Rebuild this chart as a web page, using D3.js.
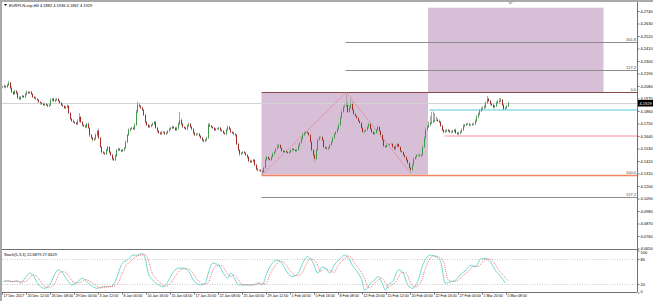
<!DOCTYPE html>
<html>
<head>
<meta charset="utf-8">
<script src="https://cdn.jsdelivr.net/npm/d3@7"></script>
<style>
body { margin: 0; background: #fff; }
svg { display: block; }
text { font-family: "Liberation Sans", Arial, sans-serif; font-size: 4px; fill: #000; }
</style>
</head>
<body>
<svg id="chart" width="653" height="301"></svg>
<script>
// EURPLN.ssp H4 closes, one per bar
const closes = [
4.2071,4.2080,4.2071,4.2089,4.2107,4.2063,4.2027,4.2010,4.2036,4.2019,
4.1975,4.1966,4.1983,4.1992,4.1983,4.2010,4.2027,4.2019,4.2027,4.2010,
4.1983,4.1975,4.1966,4.1957,4.1939,4.1931,4.1922,4.1913,4.1922,4.1913,
4.1904,4.1913,4.1957,4.1966,4.1948,4.1957,4.1966,4.1948,4.1931,4.1913,
4.1904,4.1887,4.1895,4.1904,4.1843,4.1790,4.1772,4.1763,4.1755,4.1746,
4.1772,4.1807,4.1763,4.1737,4.1728,4.1719,4.1746,4.1711,4.1649,4.1623,
4.1605,4.1614,4.1649,4.1684,4.1623,4.1543,4.1499,4.1491,4.1482,4.1517,
4.1543,4.1499,4.1473,4.1438,4.1429,4.1464,4.1517,4.1526,4.1517,4.1508,
4.1517,4.1535,4.1587,4.1649,4.1693,4.1702,4.1711,4.1702,4.1737,4.1851,
4.1913,4.1904,4.1887,4.1869,4.1825,4.1763,4.1737,4.1719,4.1728,4.1737,
4.1746,4.1763,4.1711,4.1684,4.1667,4.1658,4.1675,4.1675,4.1658,4.1667,
4.1684,4.1702,4.1711,4.1719,4.1711,4.1693,4.1711,4.1746,4.1781,4.1746,
4.1719,4.1711,4.1702,4.1728,4.1746,4.1719,4.1702,4.1667,4.1649,4.1658,
4.1658,4.1640,4.1623,4.1605,4.1596,4.1605,4.1623,4.1737,4.1728,4.1719,
4.1711,4.1693,4.1702,4.1702,4.1711,4.1693,4.1684,4.1667,4.1658,4.1693,
4.1719,4.1702,4.1675,4.1667,4.1658,4.1649,4.1570,4.1517,4.1482,4.1491,
4.1499,4.1491,4.1473,4.1455,4.1420,4.1411,4.1420,4.1429,4.1385,4.1350,
4.1341,4.1341,4.1332,4.1323,4.1359,4.1429,4.1455,4.1438,4.1429,4.1455,
4.1482,4.1499,4.1526,4.1543,4.1561,4.1535,4.1508,4.1499,4.1508,4.1499,
4.1491,4.1499,4.1517,4.1526,4.1517,4.1508,4.1517,4.1552,4.1579,4.1614,
4.1649,4.1667,4.1675,4.1667,4.1649,4.1587,4.1517,4.1473,4.1438,4.1517,
4.1605,4.1631,4.1631,4.1605,4.1543,4.1535,4.1526,4.1535,4.1561,4.1587,
4.1623,4.1658,4.1675,4.1702,4.1737,4.1799,4.1851,4.1895,4.1904,4.1913,
4.1851,4.1887,4.1922,4.1869,4.1834,4.1816,4.1799,4.1772,4.1755,4.1711,
4.1675,4.1684,4.1693,4.1719,4.1746,4.1702,4.1675,4.1658,4.1667,4.1693,
4.1719,4.1684,4.1649,4.1605,4.1552,4.1543,4.1561,4.1561,4.1570,4.1570,
4.1543,4.1526,4.1552,4.1570,4.1543,4.1508,4.1499,4.1473,4.1455,4.1429,
4.1403,4.1359,4.1341,4.1385,4.1438,4.1455,4.1473,4.1473,4.1464,4.1473,
4.1543,4.1623,4.1693,4.1719,4.1737,4.1755,4.1763,4.1772,4.1781,4.1781,
4.1772,4.1763,4.1728,4.1693,4.1675,4.1684,4.1693,4.1684,4.1675,4.1675,
4.1684,4.1693,4.1667,4.1658,4.1667,4.1675,4.1693,4.1728,4.1737,4.1746,
4.1746,4.1737,4.1737,4.1746,4.1746,4.1772,4.1807,4.1834,4.1860,4.1878,
4.1887,4.1895,4.1931,4.1966,4.1948,4.1922,4.1913,4.1895,4.1904,4.1931,
4.1939,4.1948,4.1957,4.1913,4.1878,4.1887,4.1904,4.1929
];

// wick lengths above / below the body, in points (0.0001)
const upperWick = [
9,12,6,10,18,8,14,6,12,9,7,15,8,10,6,12,14,7,9,11,
6,8,12,7,10,9,6,14,8,7,11,9,16,8,10,12,9,7,8,10,
12,6,9,14,8,7,10,12,6,9,15,35,8,10,7,12,9,14,6,8,
10,12,15,9,22,7,8,10,6,12,9,7,8,10,11,14,9,12,8,7,
10,9,12,8,14,10,9,12,16,20,26,14,9,12,8,10,7,9,12,8,
14,10,7,9,8,10,12,9,7,10,8,12,9,14,10,8,12,15,70,12,
9,7,10,14,12,8,9,7,10,8,9,10,8,6,9,10,12,18,14,9,
10,8,9,12,10,8,7,9,10,12,14,9,8,7,10,9,8,12,7,9,
8,10,7,9,8,12,9,10,7,8,9,6,8,7,12,18,14,9,10,12,
14,10,12,26,9,10,8,12,9,10,7,9,12,8,10,9,8,14,12,16,
18,10,12,9,8,10,12,9,10,14,16,12,10,9,8,10,12,9,10,12,
14,12,10,12,16,18,20,14,22,110,30,20,44,18,12,10,9,12,8,10,
12,10,9,14,10,12,8,9,10,12,14,9,8,10,12,9,10,12,8,9,
10,9,12,8,10,9,7,8,9,10,8,7,9,12,10,9,8,10,9,12,
14,16,18,20,30,60,90,85,60,30,16,12,9,10,8,12,9,10,12,14,
10,9,12,8,10,12,14,16,10,9,12,10,9,8,12,14,16,12,18,14,
16,20,14,26,12,10,14,12,10,16,20,26,18,10,12,9,10,12
];
const lowerWick = [
8,10,12,7,9,14,8,10,6,12,9,8,11,7,10,9,12,8,6,10,
9,12,7,10,8,14,9,6,11,8,10,9,7,12,8,10,9,11,7,8,
10,9,12,8,14,10,9,12,8,10,9,12,8,14,10,9,12,8,16,10,
12,9,8,14,10,9,12,8,10,9,12,14,10,12,9,10,8,12,9,10,
9,12,8,10,9,12,8,10,9,8,10,12,9,8,10,12,9,10,8,12,
10,12,9,14,10,8,9,12,10,9,8,10,9,12,10,9,8,14,10,12,
9,10,8,12,9,10,12,14,10,9,8,10,12,14,16,10,12,9,10,8,
10,12,9,8,10,12,9,10,8,12,10,9,8,10,12,14,10,12,16,10,
12,10,9,14,12,10,9,12,10,14,12,10,12,24,10,12,9,10,12,10,
10,12,9,10,8,12,10,9,12,10,9,8,10,12,9,10,12,9,10,8,
9,10,12,8,10,12,14,18,30,12,10,9,10,12,14,10,9,12,10,9,
8,10,9,12,10,9,8,10,12,10,9,12,10,9,8,10,12,9,10,12,
10,9,12,10,9,12,10,8,12,10,9,12,14,10,12,9,10,8,12,10,
9,10,12,10,9,12,10,12,14,12,16,14,29,12,10,9,12,10,9,12,
10,9,12,10,9,12,10,9,12,10,9,12,10,14,12,10,9,12,10,12,
10,12,9,10,12,14,10,9,12,10,9,12,10,9,12,10,9,10,12,10,
9,10,12,10,9,12,10,14,12,10,9,12,10,12,14,10,9,10
];

// header values as shown on the chart
const titleText = "EURPLN.ssp,H4  4.1882 4.1936 4.1867 4.1929";
const stochText = "Stoch(5,3,3) 22.6879 27.6629";

// time axis: one label every 16 bars
const timeLabels = ["17 Dec 2017","20 Dec 12:00","26 Dec 08:00","29 Dec 00:00","3 Jan 12:00",
  "8 Jan 00:00","10 Jan 16:00","15 Jan 04:00","17 Jan 20:00","22 Jan 08:00","25 Jan 00:00",
  "29 Jan 12:00","1 Feb 04:00","5 Feb 16:00","8 Feb 08:00","12 Feb 20:00","15 Feb 12:00",
  "20 Feb 00:00","22 Feb 16:00","27 Feb 04:00","1 Mar 20:00","5 Mar 08:00"];
const priceTicks = [4.2740,4.2630,4.2520,4.2410,4.2300,4.2190,4.2080,4.1970,4.1860,4.1750,
  4.1640,4.1530,4.1420,4.1310,4.1200,4.1090,4.0980,4.0870,4.0760,4.0650];

// stochastic (5,3,3): [bar, value]
const stochMain = [[0,26],[3,28],[6,26],[10,28],[12,22],[15,35],[18,46],[20,42],[23,23],[25,14],
  [28,10],[32,23],[35,46],[37,54],[40,46],[43,30],[46,18],[50,26],[53,34],[56,26],[60,14],[63,10],
  [67,14],[72,14],[75,26],[77,46],[80,71],[83,77],[87,89],[90,89],[93,93],[95,81],[97,46],[101,26],
  [104,18],[107,14],[110,26],[114,50],[117,58],[120,58],[124,50],[127,30],[132,18],[135,22],[137,46],
  [140,70],[144,65],[147,46],[150,34],[152,46],[155,30],[157,18],[162,18],[167,18],[170,23],[173,18],
  [176,46],[180,71],[183,77],[187,65],[190,46],[193,38],[197,46],[200,70],[203,85],[207,70],[210,46],
  [213,61],[217,50],[218,46],[221,65],[225,81],[228,89],[230,85],[233,65],[237,46],[240,22],[241,6],
  [243,10],[245,22],[248,30],[250,38],[253,22],[255,6],[257,18],[260,26],[264,54],[267,46],[270,18],
  [273,10],[277,30],[280,65],[283,85],[285,89],[289,85],[292,73],[295,22],[299,26],[302,30],[305,42],
  [309,54],[312,65],[315,61],[319,81],[322,81],[325,73],[329,50],[332,38],[335,23]];
const stochSignal = [[2,27],[5,27],[8,26],[12,26],[14,25],[17,31],[20,42],[22,40],[25,28],[27,17],
  [30,12],[34,18],[37,40],[39,50],[42,48],[45,34],[48,22],[52,24],[55,31],[58,27],[62,17],[65,11],
  [69,13],[74,15],[77,23],[79,40],[82,63],[85,74],[89,86],[92,89],[95,90],[97,78],[99,52],[103,30],
  [106,20],[109,15],[112,23],[116,44],[119,55],[122,57],[126,50],[129,34],[134,20],[137,23],[139,42],
  [142,64],[146,64],[149,49],[152,38],[154,42],[157,31],[159,20],[164,18],[169,19],[172,22],[175,20],
  [178,42],[182,66],[185,75],[189,66],[192,50],[195,40],[199,44],[202,65],[205,80],[209,72],[212,50],
  [215,58],[219,50],[221,48],[223,61],[227,78],[230,87],[232,84],[235,68],[239,48],[242,26],[243,13],
  [245,11],[247,20],[250,28],[252,35],[255,24],[257,11],[259,17],[262,25],[266,48],[269,46],[272,22],
  [275,13],[279,27],[282,60],[285,81],[287,87],[291,84],[294,72],[297,30],[301,26],[304,30],[307,40],
  [311,52],[314,63],[317,62],[321,77],[324,80],[327,73],[331,52],[334,40],[337,28]];
const stochLevels = [80, 20];
const stochTicks = [100, 80, 20, 0];

// drawn objects (bars, prices)
const swingLow = {bar: 173, price: 4.1300};
const swingHigh = {bar: 229, price: 4.2023};
const fibDown = [0, 100, 127.2];     // from the high down to the low
const fibUp = [127.2, 161.8];        // projected above the high
const boxes = [
  {from: 173, to: 284, lo: 4.1300, hi: 4.2023},
  {from: 284, to: 401, lo: 4.2023, hi: 4.2769}
];
const zigzag = [[173, 4.1300], [229, 4.2023], [272, 4.1312]];
const resistance = {from: 285, price: 4.1869};
const support = {from: 295, price: 4.1640};

const W = 653, H = 301;
const axisX = 637;
const svg = d3.select("#chart");

const x = d3.scaleLinear().domain([0, 400]).range([2, 602]);
const y = d3.scaleLinear().domain([4.0650, 4.2740]).range([248.5, 11]);
const sy = d3.scaleLinear().domain([0, 100]).range([292.5, 250.5]);

// frame
svg.append("rect").attr("width", W).attr("height", H).attr("fill", "#fff");
svg.append("rect").attr("x", 0).attr("y", 0).attr("width", W).attr("height", 2).attr("fill", "#a9a9a9");
svg.append("rect").attr("x", 0).attr("y", 0).attr("width", 2).attr("height", H).attr("fill", "#a9a9a9");

let main = svg.append("g");
main.append("defs").append("clipPath").attr("id", "clipMain")
  .append("rect").attr("x", 2).attr("y", 2).attr("width", axisX - 2).attr("height", 247);

let objs = main.append("g").attr("clip-path", "url(#clipMain)");

// boxes
objs.selectAll("rect.box")
  .data(boxes)
  .enter()
  .append("rect")
  .attr("class", "box")
  .attr("x", d => x(d.from))
  .attr("width", d => x(d.to) - x(d.from))
  .attr("y", d => y(d.hi))
  .attr("height", d => y(d.lo) - y(d.hi))
  .attr("fill", "#d8bfd8");

// bid line
let last = closes[closes.length - 1];
objs.append("line")
  .attr("x1", 2).attr("x2", axisX)
  .attr("y1", Math.round(y(last)) + 0.5).attr("y2", Math.round(y(last)) + 0.5)
  .attr("stroke", "#d3d3d3").attr("stroke-width", 1);

// fibonacci levels
let range = swingHigh.price - swingLow.price;
let fibLines = fibDown.map(l => ({level: l, price: swingHigh.price - range * l / 100, from: swingLow.bar}))
  .concat(fibUp.map(l => ({level: l, price: swingLow.price + range * l / 100, from: swingHigh.bar})));
function fibColor(l) {
  if (l === 0) return "#8b4a4a";
  if (l === 100) return "#f4845f";
  return "#8c8c8c";
}
objs.selectAll("line.fib")
  .data(fibLines)
  .enter()
  .append("line")
  .attr("class", "fib")
  .attr("x1", d => x(d.from)).attr("x2", axisX)
  .attr("y1", d => Math.round(y(d.price)) + 0.5).attr("y2", d => Math.round(y(d.price)) + 0.5)
  .attr("stroke", d => fibColor(d.level))
  .attr("stroke-width", d => d.level === 100 ? 1.6 : 1);
objs.selectAll("text.fib")
  .data(fibLines)
  .enter()
  .append("text")
  .attr("class", "fib")
  .attr("x", axisX - 1)
  .attr("y", d => Math.round(y(d.price)) - 0.8)
  .attr("text-anchor", "end")
  .style("fill", "#444")
  .text(d => d.level.toFixed(1));

// resistance / support
objs.append("line")
  .attr("x1", x(resistance.from)).attr("x2", axisX)
  .attr("y1", y(resistance.price)).attr("y2", y(resistance.price))
  .attr("stroke", "#8fdde6").attr("stroke-width", 1.6);
objs.append("line")
  .attr("x1", x(support.from)).attr("x2", axisX)
  .attr("y1", y(support.price)).attr("y2", y(support.price))
  .attr("stroke", "#ffb3be").attr("stroke-width", 1.6);

// zigzag
objs.append("path")
  .datum(zigzag)
  .attr("d", d3.line().x(d => x(d[0]) + 0.75).y(d => y(d[1])))
  .attr("fill", "none")
  .attr("stroke", "#f05050")
  .attr("stroke-width", 0.8)
  .attr("stroke-dasharray", "1,1.2");

// candles
let bars = closes.map(function(c, i) {
  let o = i > 0 ? closes[i - 1] : c;
  let top = Math.max(o, c), bot = Math.min(o, c);
  return {
    i: i, open: o, close: c,
    high: top + (upperWick[i] || 0) / 10000,
    low: bot - (lowerWick[i] || 0) / 10000
  };
});
let candles = objs.append("g").attr("class", "candles");
candles.selectAll("line.wick")
  .data(bars)
  .enter()
  .append("line")
  .attr("class", "wick")
  .attr("x1", d => Math.floor(x(d.i) + 0.75) + 0.5)
  .attr("x2", d => Math.floor(x(d.i) + 0.75) + 0.5)
  .attr("y1", d => y(d.high))
  .attr("y2", d => y(d.low))
  .attr("stroke", "#a8a8a8")
  .attr("stroke-width", 1);
candles.selectAll("rect.body")
  .data(bars)
  .enter()
  .append("rect")
  .attr("class", "body")
  .attr("x", d => Math.floor(x(d.i) + 0.75))
  .attr("width", 1)
  .attr("y", d => y(Math.max(d.open, d.close)))
  .attr("height", d => Math.max(1, Math.abs(y(d.open) - y(d.close))))
  .attr("fill", d => d.close > d.open ? "#3f9a45" : (d.close < d.open ? "#a82824" : "#a8a8a8"));

// panel borders
svg.append("line").attr("x1", axisX + 0.5).attr("x2", axisX + 0.5).attr("y1", 2).attr("y2", 292)
  .attr("stroke", "#707070");
svg.append("line").attr("x1", 2).attr("x2", axisX).attr("y1", 249.5).attr("y2", 249.5)
  .attr("stroke", "#707070");
svg.append("line").attr("x1", 2).attr("x2", axisX).attr("y1", 292.5).attr("y2", 292.5)
  .attr("stroke", "#707070");

// price axis
let priceAxis = svg.append("g")
  .attr("transform", "translate(" + (axisX + 0.5) + ",0)")
  .call(d3.axisRight(y).tickValues(priceTicks).tickSize(2).tickPadding(1).tickFormat(d3.format(".4f")));
priceAxis.select(".domain").remove();
priceAxis.selectAll("text").attr("font-family", null).attr("font-size", null).attr("dy", "0.3em");
priceAxis.selectAll("line").attr("stroke", "#707070");

// current price tag
let tag = svg.append("g").attr("transform", "translate(" + (axisX + 1) + "," + Math.round(y(last)) + ")");
tag.append("rect").attr("x", 0).attr("y", -3).attr("width", 15).attr("height", 6.5).attr("fill", "#000");
tag.append("text").attr("x", 1.5).attr("y", 1.6).style("fill", "#fff")
  .text(d3.format(".4f")(last));

// stochastic panel
let stoch = svg.append("g");
stoch.selectAll("line.level")
  .data(stochLevels)
  .enter()
  .append("line")
  .attr("class", "level")
  .attr("x1", 2).attr("x2", axisX)
  .attr("y1", d => Math.round(sy(d)) + 0.5).attr("y2", d => Math.round(sy(d)) + 0.5)
  .attr("stroke", "#c8c8c8").attr("stroke-dasharray", "1,1.5");
let sline = d3.line().x(d => x(d[0]) + 0.75).y(d => sy(d[1])).curve(d3.curveMonotoneX);
stoch.append("path").datum(stochMain).attr("d", sline)
  .attr("fill", "none").attr("stroke", "#5fd3cc").attr("stroke-width", 0.9);
stoch.append("path").datum(stochSignal).attr("d", sline)
  .attr("fill", "none").attr("stroke", "#f05a5a").attr("stroke-width", 0.8).attr("stroke-dasharray", "1,1");
let stochAxis = svg.append("g")
  .attr("transform", "translate(" + (axisX + 0.5) + ",0)")
  .call(d3.axisRight(sy).tickValues(stochTicks).tickSize(2).tickPadding(1));
stochAxis.select(".domain").remove();
stochAxis.selectAll("text").attr("font-family", null).attr("font-size", null)
  .attr("dy", (d) => d === 100 ? "0.8em" : (d === 0 ? "-0.1em" : "0.3em"));
stochAxis.selectAll("line").attr("stroke", "#707070");
svg.append("text").attr("x", 4).attr("y", 256).text(stochText);

// time axis
let timeAxis = svg.append("g")
  .attr("transform", "translate(0,292.5)")
  .call(d3.axisBottom(x).tickValues(timeLabels.map((t, k) => k * 16)).tickSize(2).tickPadding(0.5)
    .tickFormat((d, k) => timeLabels[k]));
timeAxis.select(".domain").remove();
timeAxis.selectAll("line").attr("stroke", "#707070");
timeAxis.selectAll("text").attr("text-anchor", "start").attr("dx", 1).attr("dy", "0.5em")
  .attr("font-family", null).attr("font-size", null).style("font-size", "3.6px");

// title
svg.append("path").attr("d", "M4,4 L7,4 L5.5,6 Z").attr("fill", "#000");
svg.append("text").attr("x", 9).attr("y", 6.5).text(titleText);

// chart shift marker
svg.append("path").attr("d", "M508,2 L513,2 L510.5,5 Z").attr("fill", "#c0c0c0");
</script>
</body>
</html>
